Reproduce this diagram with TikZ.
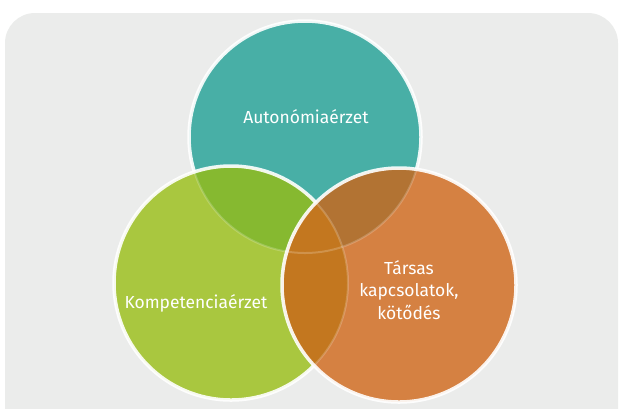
\documentclass[tikz,border=0pt]{standalone}
\usepackage{fontspec}
\setmainfont{Fira Sans}
\definecolor{panel}{HTML}{EBECEB}
\definecolor{aut}{HTML}{48AFA6}
\definecolor{komp}{HTML}{A9C73F}
\definecolor{tars}{HTML}{D58142}
\definecolor{autkomp}{HTML}{86B930}
\definecolor{auttars}{HTML}{B27333}
\definecolor{komptars}{HTML}{C3771F}
\tikzset{
  rim/.style={draw=white, draw opacity=0.9, line width=3.5bp},
  seam/.style={draw=white, draw opacity=0.2, line width=2bp},
  lbl/.style={text=white, font=\fontsize{17.5}{22.5}\selectfont, align=center}
}

\begin{document}
\begin{tikzpicture}[x=1bp, y=-1bp]
  \useasboundingbox (0,0) rectangle (619,408);
  % grey card behind the three circles
  \begin{scope}
    \clip (0,0) rectangle (619,408);
    \fill[panel, rounded corners=30bp] (5,13) rectangle (618,460);
  \end{scope}

  \coordinate (A) at (305,137);
  \coordinate (K) at (231,283);
  \coordinate (T) at (399,285);

  % Autonomia (bottom layer)
  \fill[aut] (A) circle (116bp);
  \draw[rim] (A) circle (116bp);

  % Kompetencia
  \fill[komp] (K) circle (117bp);
  \begin{scope}
    \clip (K) circle (117bp);
    \fill[autkomp] (A) circle (116bp);
    \draw[seam] (A) circle (116bp);
  \end{scope}
  \draw[rim] (K) circle (117bp);

  % Tarsas kapcsolatok (top layer)
  \fill[tars] (T) circle (117bp);
  \begin{scope}
    \clip (T) circle (117bp);
    \fill[auttars] (A) circle (116bp);
    \fill[komptars] (K) circle (117bp);
    \draw[seam] (A) circle (116bp);
    \draw[seam] (K) circle (117bp);
  \end{scope}
  \draw[rim] (T) circle (117bp);

  \node[lbl] (autlbl) at (306,117) {Autonómiaérzet};
  \node[lbl] (komplbl) at (196,303) {Kompetenciaérzet};
  \node[lbl] (tarslbl) at (409,290) {Társas\\kapcsolatok,\\kötődés};
\end{tikzpicture}
\end{document}
